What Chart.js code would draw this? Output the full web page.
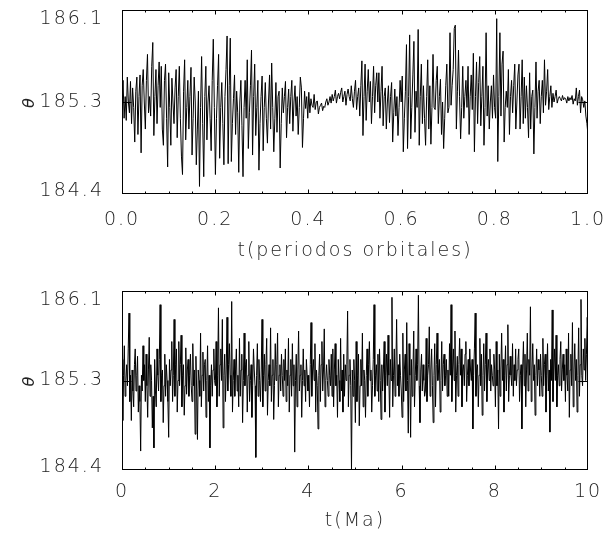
<!DOCTYPE html>
<html>
<head>
<meta charset="utf-8">
<script src="https://cdn.jsdelivr.net/npm/chart.js@4.4.1/dist/chart.umd.min.js"></script>
<style>
  html, body { margin: 0; padding: 0; background: #fff; }
  #wrap { position: relative; width: 608px; height: 546px; }
  .panel { position: absolute; left: 0; width: 608px; height: 273px; }
  #p1 { top: 0; }
  #p2 { top: 273px; }
</style>
</head>
<body>
<div id="wrap">
  <div class="panel" id="p1"><canvas id="topChart"></canvas></div>
  <div class="panel" id="p2"><canvas id="bottomChart"></canvas></div>
</div>
<script>
// Data (theta in degrees)
const yTicks = [184.4, 185.25, 186.1];
const yTickLabels = ["184.4", "185.3", "186.1"];

const topXTicks = [0.0, 0.2, 0.4, 0.6, 0.8, 1.0];
const topTitle = "t(periodos orbitales)";
const topTheta = [
  185.22, 185.45, 185.10, 185.30, 185.08, 185.48, 185.25, 185.15, 185.44, 185.05, 185.38, 185.20, 184.88, 185.35, 185.48, 184.95, 185.30, 185.50, 184.78, 185.40, 185.55, 185.25,
  185.00, 185.45, 185.69, 185.15, 185.30, 185.12, 185.58, 185.80, 184.94, 185.30, 185.55, 185.05, 185.40, 185.62, 185.20, 185.58, 185.00, 184.85, 185.45, 185.60, 185.10, 184.65,
  185.52, 185.20, 184.85, 185.47, 185.25, 185.05, 185.38, 185.55, 184.92, 185.30, 185.58, 185.10, 184.75, 184.58, 185.35, 185.64, 184.90, 185.20, 185.45, 185.00, 185.30, 185.57,
  184.76, 185.10, 185.48, 185.25, 184.67, 185.00, 185.35, 184.47, 185.20, 185.67, 185.05, 184.56, 185.30, 185.58, 184.90, 185.25, 185.40, 185.10, 184.80, 185.45, 185.83, 185.20,
  184.58, 185.10, 185.40, 185.69, 184.73, 185.20, 185.43, 185.05, 184.67, 185.30, 185.55, 185.86, 184.68, 185.40, 185.84, 184.70, 185.05, 185.28, 185.50, 184.95, 185.35, 185.15,
  184.60, 185.25, 185.45, 185.03, 184.56, 185.20, 185.45, 185.10, 185.64, 184.82, 185.15, 185.40, 185.73, 184.76, 185.30, 185.60, 184.94, 185.20, 185.45, 184.62, 185.05, 185.30,
  185.49, 184.80, 185.20, 185.43, 185.10, 184.87, 185.25, 185.50, 185.00, 185.61, 185.20, 184.79, 185.10, 185.43, 184.97, 185.30, 185.35, 184.64, 185.05, 185.38, 185.15, 185.30,
  185.44, 184.92, 185.20, 185.37, 185.05, 185.30, 185.45, 184.98, 185.25, 185.40, 185.12, 185.30, 184.95, 185.20, 185.48, 185.38, 184.83, 185.10, 185.35, 185.19, 185.30, 185.10,
  185.34, 185.15, 185.28, 185.22, 185.20, 185.32, 185.18, 185.25, 185.26, 185.14, 185.20, 185.22, 185.24, 185.17, 185.21, 185.20, 185.25, 185.28, 185.22, 185.25, 185.30, 185.24,
  185.32, 185.26, 185.30, 185.36, 185.24, 185.30, 185.33, 185.28, 185.34, 185.38, 185.25, 185.30, 185.35, 185.22, 185.32, 185.37, 185.30, 185.26, 185.40, 185.28, 185.20, 185.35,
  185.45, 185.18, 185.30, 185.38, 185.12, 185.40, 185.63, 184.94, 185.30, 185.60, 185.08, 185.35, 185.55, 185.25, 185.44, 185.05, 185.30, 185.58, 185.15, 185.40, 185.52, 185.25,
  185.52, 185.10, 185.35, 185.58, 185.03, 185.30, 185.38, 185.00, 185.25, 185.40, 185.06, 185.30, 185.43, 184.88, 185.15, 185.37, 185.12, 185.30, 184.94, 185.20, 185.45, 185.25,
  185.49, 184.79, 185.10, 185.35, 185.78, 184.82, 185.30, 185.87, 184.91, 185.20, 185.50, 185.81, 184.97, 185.35, 185.20, 185.92, 184.85, 185.30, 185.60, 185.05, 185.40, 185.10,
  184.85, 185.30, 185.64, 185.00, 185.40, 184.86, 185.20, 185.69, 185.20, 185.18, 185.45, 185.58, 185.05, 185.30, 185.46, 184.95, 185.25, 184.82, 185.10, 185.40, 185.60, 185.15,
  185.20, 185.89, 185.22, 185.40, 185.55, 185.93, 185.96, 185.00, 185.35, 185.73, 185.30, 184.91, 185.20, 185.58, 185.10, 185.30, 185.45, 185.20, 185.58, 184.95, 185.30, 185.50,
  185.18, 185.70, 184.79, 185.30, 185.62, 185.05, 185.43, 185.67, 185.03, 185.30, 185.58, 184.85, 185.20, 185.89, 185.12, 185.40, 185.00, 185.25, 185.40, 185.10, 185.50, 185.20,
  185.10, 186.02, 184.70, 185.30, 185.89, 185.12, 185.60, 185.72, 184.88, 185.20, 185.35, 185.20, 185.55, 184.95, 185.30, 185.45, 185.15, 185.40, 185.60, 185.00, 185.25, 185.50,
  185.60, 185.00, 185.30, 185.64, 185.05, 185.48, 185.10, 185.40, 185.20, 184.92, 185.52, 185.00, 185.30, 185.36, 184.77, 185.20, 185.62, 185.10, 185.35, 185.45, 185.05, 185.30,
  185.45, 185.15, 185.64, 185.22, 185.35, 185.55, 185.18, 185.30, 185.40, 185.20, 185.33, 185.25, 185.30, 185.36, 185.24, 185.28, 185.30, 185.28, 185.26, 185.31, 185.27, 185.29,
  185.28, 185.24, 185.30, 185.26, 185.29, 185.27, 185.31, 185.23, 185.28, 185.26, 185.38, 185.22, 185.30, 185.36, 185.15, 185.30, 185.27, 185.20, 185.26, 185.12, 185.05, 184.94
];

const bottomXTicks = [0, 2, 4, 6, 8, 10];
const bottomTitle = "t(Ma)";
const bottomTheta = [
  185.45, 184.87, 185.30, 185.58, 185.10, 185.25, 185.40, 185.20, 185.55, 185.89, 185.05, 185.30, 184.87, 185.35, 185.15, 185.00, 185.40, 185.55, 185.15, 185.30, 185.48, 184.95, 185.20, 185.05, 184.58, 185.30, 185.15, 185.58, 185.25, 185.40,
  185.05, 185.50, 185.20, 184.90, 185.35, 185.66, 185.10, 185.40, 185.25, 184.80, 185.10, 184.61, 185.45, 185.15, 185.00, 185.55, 185.30, 185.15, 185.45, 185.97, 185.05, 185.30, 185.35, 184.85, 185.20, 185.50, 185.10, 185.40, 185.25, 185.05,
  184.71, 185.45, 185.20, 185.35, 185.62, 185.05, 185.30, 185.83, 185.10, 185.40, 185.55, 184.95, 185.25, 185.62, 185.20, 185.40, 185.68, 185.00, 185.30, 185.40, 184.92, 185.20, 185.56, 185.12, 185.35, 185.45, 185.10, 185.30, 185.50, 185.20,
  185.05, 185.60, 185.20, 185.35, 184.74, 185.48, 185.15, 184.69, 185.35, 185.25, 185.10, 185.70, 185.00, 185.30, 185.52, 185.15, 185.40, 185.45, 184.90, 185.25, 185.58, 185.05, 185.30, 184.61, 185.20, 185.40, 185.10, 185.35, 185.55, 185.25,
  185.20, 185.62, 185.00, 185.30, 185.94, 185.10, 185.40, 185.55, 185.25, 185.83, 184.80, 185.30, 185.50, 185.05, 185.35, 185.85, 185.15, 185.40, 185.60, 185.30, 185.10, 186.00, 184.95, 185.25, 185.45, 185.10, 185.35, 185.55, 185.15, 185.30,
  185.00, 185.65, 185.10, 185.35, 185.50, 184.85, 185.25, 185.70, 185.20, 185.40, 185.45, 184.95, 185.30, 185.62, 185.05, 185.25, 185.40, 184.90, 185.20, 185.55, 185.35, 185.20, 184.52, 185.30, 185.60, 185.10, 185.45, 185.25, 185.05, 185.35,
  185.83, 185.00, 185.30, 185.50, 185.15, 185.40, 185.65, 184.92, 185.25, 185.40, 185.20, 185.75, 185.05, 185.30, 185.45, 184.88, 185.20, 185.60, 185.25, 185.40, 185.70, 185.00, 185.30, 185.40, 185.15, 185.50, 185.30, 185.10, 185.45, 185.25,
  185.55, 185.05, 185.35, 185.20, 185.65, 184.95, 185.30, 185.45, 185.10, 185.60, 185.20, 185.40, 184.57, 185.25, 185.50, 185.00, 185.35, 185.72, 185.15, 185.30, 185.40, 184.90, 185.25, 185.55, 185.20, 185.35, 185.05, 185.45, 185.30, 185.15,
  185.30, 185.00, 185.40, 185.80, 185.10, 185.35, 185.45, 185.25, 185.60, 184.95, 185.35, 185.20, 184.79, 185.30, 185.50, 185.05, 185.40, 185.62, 185.15, 185.35, 185.74, 185.00, 185.25, 185.40, 185.25, 185.10, 185.45, 185.30, 185.20, 185.50,
  185.10, 185.55, 185.00, 185.35, 185.60, 185.20, 185.30, 184.90, 185.45, 185.25, 185.05, 185.65, 185.15, 185.35, 184.95, 185.50, 185.10, 185.40, 185.25, 185.40, 185.91, 185.00, 185.30, 185.45, 185.20, 184.40, 185.35, 185.10, 185.45, 185.25,
  184.85, 185.62, 185.05, 185.30, 185.50, 184.82, 185.20, 185.45, 185.20, 185.70, 185.00, 185.35, 185.25, 184.90, 185.30, 185.55, 185.10, 185.40, 185.62, 185.25, 185.35, 184.95, 185.20, 185.45, 185.97, 185.10, 185.30, 185.40, 185.15, 185.50,
  185.05, 185.55, 185.25, 184.88, 185.40, 185.15, 185.35, 185.62, 184.95, 185.30, 185.50, 185.20, 185.68, 185.30, 184.90, 185.45, 185.25, 186.04, 185.00, 185.30, 185.55, 185.10, 185.35, 185.83, 185.20, 185.40, 185.10, 185.50, 185.30, 185.15,
  184.90, 185.70, 185.05, 185.35, 185.50, 185.15, 185.80, 185.25, 184.75, 185.60, 185.30, 184.71, 185.45, 185.10, 185.35, 185.72, 185.00, 185.30, 185.55, 185.25, 185.40, 186.06, 185.20, 184.85, 185.35, 185.50, 185.15, 185.40, 185.25, 185.10,
  185.15, 185.65, 185.05, 185.30, 185.40, 185.76, 185.10, 185.35, 185.55, 185.20, 184.85, 185.30, 185.60, 185.00, 185.40, 185.70, 185.25, 185.35, 185.45, 184.95, 185.25, 185.62, 185.15, 185.40, 185.50, 185.20, 185.30, 185.45, 185.10, 185.35,
  185.10, 185.60, 185.30, 185.97, 185.05, 185.35, 185.55, 185.25, 185.72, 184.95, 185.30, 185.48, 185.10, 185.40, 185.65, 185.30, 185.55, 185.00, 185.35, 185.40, 185.20, 185.50, 185.62, 185.05, 185.30, 185.45, 185.20, 185.55, 185.35, 185.25,
  185.45, 184.79, 185.30, 185.55, 185.89, 185.10, 185.35, 185.40, 185.00, 185.30, 185.65, 185.20, 185.50, 184.92, 185.30, 185.60, 185.15, 185.40, 185.70, 185.05, 185.35, 185.45, 185.25, 185.55, 185.15, 185.40, 185.30, 185.20, 185.50, 185.35,
  185.00, 185.62, 185.20, 185.35, 184.79, 185.50, 185.10, 185.35, 185.70, 185.25, 185.45, 184.95, 185.30, 185.58, 185.15, 185.40, 185.78, 185.05, 185.30, 185.48, 185.30, 185.20, 185.60, 185.10, 185.40, 185.25, 185.55, 185.20, 185.35, 185.45,
  185.55, 185.05, 185.30, 185.40, 184.79, 185.35, 185.62, 185.20, 185.50, 185.00, 185.35, 185.70, 185.15, 185.45, 185.30, 185.95, 185.05, 185.35, 185.60, 185.25, 185.40, 184.92, 185.30, 185.55, 185.20, 185.45, 185.35, 185.10, 185.50, 185.30,
  185.10, 185.65, 185.20, 185.40, 185.50, 184.95, 185.30, 185.60, 185.15, 185.35, 184.76, 185.45, 185.25, 185.92, 185.05, 185.35, 185.55, 185.25, 185.68, 185.00, 185.30, 185.40, 185.20, 185.45, 185.62, 185.15, 185.35, 185.50, 185.25, 185.40,
  185.05, 185.55, 185.30, 185.15, 185.70, 184.90, 185.35, 185.50, 185.20, 185.80, 185.00, 185.35, 185.60, 185.25, 185.45, 184.95, 185.30, 185.75, 185.10, 185.40, 186.02, 185.30, 185.20, 185.55, 185.35, 185.65, 185.25, 185.50, 185.85, 185.65
];

// Look
const FONT_FAMILY = "'DejaVu Sans', sans-serif";
const TEXT_COLOR = "#222";
const LETTER_SPACING = "2px";
const Y_LABEL_SHIFT = [-3, 0, 9]; // label nudges, bottom / middle / top

// Frame, inward ticks (IDL style) and y tick labels
const framePlugin = {
  id: "frame",
  beforeLayout(chart) {
    chart.ctx.letterSpacing = LETTER_SPACING;
  },
  beforeDraw(chart) {
    chart.ctx.letterSpacing = LETTER_SPACING;
  },
  afterDraw(chart, args, opts) {
    const { ctx, chartArea: a, scales } = chart;
    const x = scales.x;
    const y = scales.y;
    const line = (x1, y1, x2, y2) => {
      ctx.beginPath();
      ctx.moveTo(x1, y1);
      ctx.lineTo(x2, y2);
      ctx.stroke();
    };
    ctx.save();
    ctx.strokeStyle = "#000";
    ctx.lineWidth = 1;
    const L = Math.round(a.left) + 0.5, R = Math.round(a.right) - 0.5;
    const T = Math.round(a.top) + 0.5, B = Math.round(a.bottom) - 0.5;
    ctx.strokeRect(L, T, R - L, B - T);

    // x ticks: majors plus 3 minors in between (ends sit on the frame)
    const major = opts.xMajor;
    const step = (major[1] - major[0]) / 4;
    const n = Math.round((major[major.length - 1] - major[0]) / step);
    for (let k = 1; k < n; k++) {
      const v = major[0] + k * step;
      const px = Math.round(x.getPixelForValue(v)) + 0.5;
      const len = k % 4 === 0 ? 4 : 2;
      line(px, B, px, B - len);
      line(px, T, px, T + len);
    }
    // y ticks (inner ones only)
    yTicks.slice(1, -1).forEach(v => {
      const py = Math.round(y.getPixelForValue(v)) + 0.5;
      line(L, py, L + 9, py);
      line(R, py, R - 9, py);
    });
    // y tick labels
    ctx.font = "300 19px " + FONT_FAMILY;
    ctx.letterSpacing = LETTER_SPACING;
    ctx.fillStyle = TEXT_COLOR;
    ctx.textAlign = "right";
    ctx.textBaseline = "middle";
    yTicks.forEach((v, i) => {
      ctx.fillText(yTickLabels[i], a.left - 18, y.getPixelForValue(v) + Y_LABEL_SHIFT[i]);
    });
    ctx.restore();
  }
};

function makePanel(canvasId, values, xTicks, xTitle, padTop, xAxisHeight, labelPad, titlePad, fmt) {
  const last = xTicks[xTicks.length - 1];
  const dt = (last - xTicks[0]) / (values.length - 1);
  const points = values.map((v, i) => ({ x: xTicks[0] + i * dt, y: v }));
  return new Chart(document.getElementById(canvasId), {
    type: "line",
    data: {
      datasets: [{
        data: points,
        borderColor: "#000",
        borderWidth: 1,
        pointRadius: 0,
        tension: 0,
        fill: false
      }]
    },
    options: {
      responsive: true,
      maintainAspectRatio: false,
      animation: false,
      events: [],
      layout: { padding: { top: padTop, right: 20, bottom: 0, left: 0 } },
      plugins: {
        legend: { display: false },
        tooltip: { enabled: false },
        frame: { xMajor: xTicks }
      },
      scales: {
        x: {
          type: "linear",
          min: xTicks[0],
          max: last,
          grid: { display: false, drawTicks: false },
          border: { display: false },
          afterBuildTicks: s => { s.ticks = xTicks.map(value => ({ value })); },
          afterFit: s => {
            s.height = xAxisHeight;
            s.paddingLeft = 0;
            s.paddingRight = 0;
          },
          ticks: {
            autoSkip: false,
            maxRotation: 0,
            padding: labelPad,
            color: TEXT_COLOR,
            font: { family: FONT_FAMILY, size: 19, weight: "300" },
            callback: v => fmt(v)
          },
          title: {
            display: true,
            text: xTitle,
            color: TEXT_COLOR,
            font: { family: FONT_FAMILY, size: 19, weight: "300" },
            padding: { top: 0, bottom: titlePad }
          }
        },
        y: {
          min: yTicks[0],
          max: yTicks[yTicks.length - 1],
          grid: { display: false, drawTicks: false },
          border: { display: false },
          afterFit: s => { s.width = 122; },
          ticks: { display: false },
          title: {
            display: true,
            text: "θ",
            color: TEXT_COLOR,
            font: { family: FONT_FAMILY, size: 16, style: "italic", weight: "300" },
            padding: { top: 20, bottom: 0 }
          }
        }
      }
    },
    plugins: [framePlugin]
  });
}

makePanel("topChart", topTheta, topXTicks, topTitle, 10, 79, 15, 11, v => v.toFixed(1));
makePanel("bottomChart", bottomTheta, bottomXTicks, bottomTitle, 18, 76, 11, 14, v => String(v));
</script>
</body>
</html>
